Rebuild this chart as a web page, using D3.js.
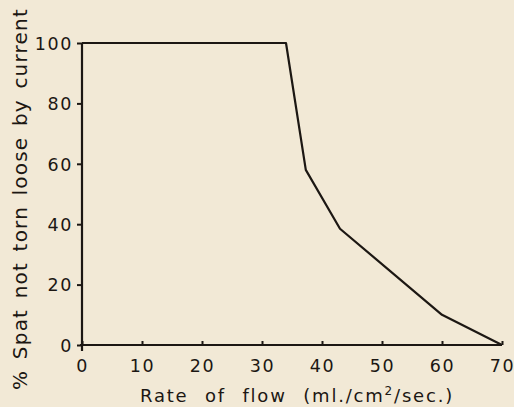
<!DOCTYPE html>
<html>
<head>
<meta charset="utf-8">
<script src="https://cdn.jsdelivr.net/npm/d3@7.9.0/dist/d3.min.js"></script>
<style>
  body { margin: 0; background: #f2e9d6; }
  svg { display: block; }
  text { font-family: "DejaVu Sans", sans-serif; fill: #1c1713; }
</style>
</head>
<body>
<svg id="chart" width="514" height="407"></svg>
<script>
// Data: rate of flow vs % spat remaining
const flowRate = [0, 34, 37.3, 43, 60, 70];
const spatRemaining = [100, 100, 58, 38.5, 10, 0];
const xTicks = [0, 10, 20, 30, 40, 50, 60, 70];
const yTicks = [0, 20, 40, 60, 80, 100];

const svg = d3.select('#chart');
const ink = '#1c1713';

// plot area
const x = d3.scaleLinear().domain([0, 70]).range([82, 502]);
const y = d3.scaleLinear().domain([0, 100]).range([345, 43]);

// x axis: ticks point up into the plot
const xAxis = svg.append('g').attr('transform', `translate(0,${y(0)})`)
  .call(d3.axisBottom(x).tickValues(xTicks).tickSize(-4).tickPadding(16).tickFormat(d3.format('d')));
xAxis.select('.domain').attr('d', `M${x(0) - 2},0H${x(70)}`);

// y axis: ticks point out to the left
const yAxis = svg.append('g').attr('transform', `translate(${x(0)},0)`)
  .call(d3.axisLeft(y).tickValues(yTicks).tickSize(5).tickPadding(4).tickFormat(d3.format('d')));
yAxis.select('.domain').attr('d', `M0,${y(100)}V${y(0) + 6}`);

svg.selectAll('.domain').attr('stroke', ink).attr('stroke-width', 2.2);
svg.selectAll('.tick line').attr('stroke', ink).attr('stroke-width', 2);
svg.selectAll('.tick text')
  .style('font-size', '17.5px')
  .style('letter-spacing', '1.6px')
  .attr('fill', ink);
xAxis.selectAll('.tick text').attr('dy', '0.6em');
yAxis.selectAll('.tick text').attr('dy', '0.36em');

// the curve
svg.append('path')
  .datum(flowRate.map((f, i) => [f, spatRemaining[i]]))
  .attr('fill', 'none')
  .attr('stroke', ink)
  .attr('stroke-width', 2.2)
  .attr('stroke-linejoin', 'round')
  .attr('d', d3.line().x(d => x(d[0])).y(d => y(d[1])));

// axis titles
const xTitle = svg.append('text')
  .attr('x', 297).attr('y', 402)
  .attr('text-anchor', 'middle')
  .style('font-size', '18px')
  .style('letter-spacing', '1.8px')
  .style('word-spacing', '9px');
xTitle.append('tspan').text('Rate of flow (ml./cm');
xTitle.append('tspan').attr('dy', -7).style('font-size', '12px').text('2');
xTitle.append('tspan').attr('dy', 7).text('/sec.)');

svg.append('text')
  .attr('transform', 'translate(27,199) rotate(-90)')
  .attr('text-anchor', 'middle')
  .style('font-size', '20px')
  .style('letter-spacing', '1.2px')
  .style('word-spacing', '3px')
  .text('% Spat not torn loose by current');
</script>
</body>
</html>
